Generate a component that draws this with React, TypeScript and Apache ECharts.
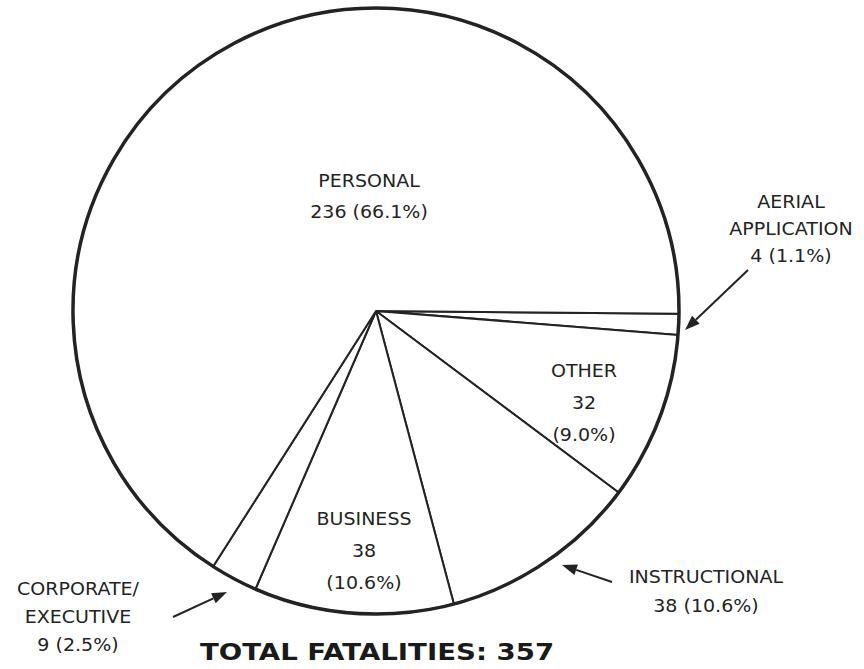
import React, { useEffect, useRef } from "react";
import * as echarts from "echarts";

// ---- data ----
const categories = ["AERIAL\nAPPLICATION", "OTHER", "INSTRUCTIONAL", "BUSINESS", "CORPORATE/\nEXECUTIVE", "PERSONAL"];
const values = [4, 32, 38, 38, 9, 236];
const totalLabel = "TOTAL FATALITIES";

const total = values.reduce((a, b) => a + b, 0);
const pct = (v: number) => ((v / total) * 100).toFixed(1) + "%";

// how value / percentage are broken over lines for each label
const stacked = [false, true, false, true, false, false];

function labelText(i: number) {
  const v = values[i];
  return stacked[i]
    ? `${categories[i]}\n${v}\n(${pct(v)})`
    : `${categories[i]}\n${v} (${pct(v)})`;
}

// annotation placement (pixels)
const labelPos: { x: number; y: number; lh: number }[] = [
  { x: 791, y: 229, lh: 27 },
  { x: 584, y: 403, lh: 32 },
  { x: 706, y: 591, lh: 29 },
  { x: 364, y: 551, lh: 32 },
  { x: 78, y: 617, lh: 28 },
  { x: 369, y: 196, lh: 31 },
];

const arrows: { tail: [number, number]; tip: [number, number] }[] = [
  { tail: [748, 270], tip: [685, 330] },
  { tail: [612, 582], tip: [562, 565] },
  { tail: [173, 617], tip: [227, 592] },
];

const INK = "#232323";
const FONT = "'DejaVu Sans', sans-serif";

function arrowGraphic(tail: [number, number], tip: [number, number]) {
  const dx = tip[0] - tail[0];
  const dy = tip[1] - tail[1];
  const len = Math.sqrt(dx * dx + dy * dy);
  const ux = dx / len;
  const uy = dy / len;
  const hl = 15;
  const hw = 5.5;
  const bx = tip[0] - ux * hl;
  const by = tip[1] - uy * hl;
  return {
    type: "group",
    silent: true,
    z: 20,
    children: [
      {
        type: "line",
        z: 20,
        shape: { x1: tail[0], y1: tail[1], x2: bx, y2: by },
        style: { stroke: INK, lineWidth: 2 },
      },
      {
        type: "polygon",
        z: 20,
        shape: {
          points: [
            [tip[0], tip[1]],
            [bx - uy * hw, by + ux * hw],
            [bx + uy * hw, by - ux * hw],
          ],
        },
        style: { fill: INK },
      },
    ],
  };
}

export default function App() {
  const ref = useRef<HTMLDivElement>(null);

  useEffect(() => {
    if (!ref.current) return;
    const chart = echarts.init(ref.current, undefined, { renderer: "svg" });

    const center = [376, 311];
    const radius = 303;

    const texts = categories.map((_, i) => ({
      type: "text",
      x: labelPos[i].x,
      y: labelPos[i].y,
      z: 20,
      scaleX: 1.12,
      silent: true,
      style: {
        text: labelText(i),
        x: 0,
        y: 0,
        align: "center",
        verticalAlign: "middle",
        lineHeight: labelPos[i].lh,
        font: `17px ${FONT}`,
        fill: INK,
      },
    }));

    chart.setOption({
      animation: false,
      backgroundColor: "#ffffff",
      series: [
        {
          type: "pie",
          center,
          radius,
          startAngle: -0.5,
          clockwise: true,
          silent: true,
          label: { show: false },
          labelLine: { show: false },
          emphasis: { disabled: true },
          itemStyle: { color: "#ffffff", borderColor: INK, borderWidth: 2 },
          data: categories.map((c, i) => ({ name: c, value: values[i] })),
        },
        {
          type: "pie",
          center,
          radius,
          silent: true,
          z: 3,
          label: { show: false },
          labelLine: { show: false },
          emphasis: { disabled: true },
          itemStyle: { color: "rgba(0,0,0,0)", borderColor: INK, borderWidth: 3.5 },
          data: [{ name: "outline", value: total }],
        },
      ],
      graphic: [
        ...texts,
        ...arrows.map((a) => arrowGraphic(a.tail, a.tip)),
        {
          type: "text",
          x: 377,
          y: 652,
          z: 20,
          scaleX: 1.2,
          silent: true,
          style: {
            text: `${totalLabel}: ${total}`,
            x: 0,
            y: 0,
            align: "center",
            verticalAlign: "middle",
            font: `bold 23px ${FONT}`,
            fill: "#1a1a1a",
          },
        },
      ],
    });

    return () => chart.dispose();
  }, []);

  return (
    <div
      ref={ref}
      style={{ position: "fixed", left: 0, top: 0, width: 864, height: 669, background: "#fff" }}
    />
  );
}
